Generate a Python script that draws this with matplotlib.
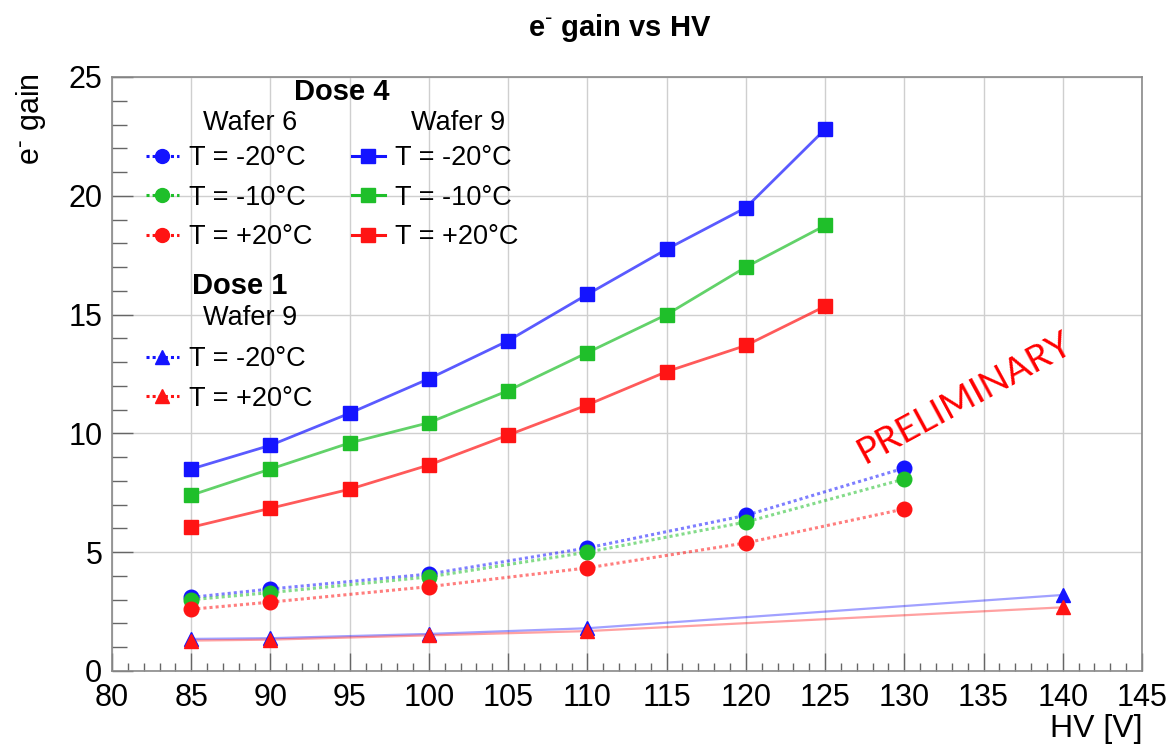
import matplotlib
matplotlib.use("Agg")
import matplotlib.pyplot as plt
from matplotlib.lines import Line2D
from matplotlib.ticker import MultipleLocator

plt.rcParams['font.family'] = ['Liberation Sans', 'DejaVu Sans']

# ---- data ----
hv_w9 = [85, 90, 95, 100, 105, 110, 115, 120, 125]
d4_w9_m20 = [8.5, 9.5, 10.85, 12.3, 13.9, 15.85, 17.75, 19.5, 22.8]
d4_w9_m10 = [7.4, 8.5, 9.6, 10.45, 11.8, 13.4, 15.0, 17.0, 18.75]
d4_w9_p20 = [6.05, 6.85, 7.65, 8.67, 9.93, 11.2, 12.6, 13.7, 15.35]

hv_w6 = [85, 90, 100, 110, 120, 130]
d4_w6_m20 = [3.1, 3.45, 4.08, 5.18, 6.55, 8.54]
d4_w6_m10 = [3.0, 3.3, 3.96, 5.0, 6.27, 8.08]
d4_w6_p20 = [2.6, 2.9, 3.55, 4.34, 5.39, 6.82]

hv_d1 = [85, 90, 100, 110, 140]
d1_w9_m20 = [1.35, 1.38, 1.56, 1.8, 3.2]
d1_w9_p20 = [1.28, 1.32, 1.5, 1.68, 2.68]

labels_T3 = ["T = -20\u00b0C", "T = -10\u00b0C", "T = +20\u00b0C"]
labels_T2 = ["T = -20\u00b0C", "T = +20\u00b0C"]

BLUE = "#1414ff"
GREEN = "#1fbf2a"
RED = "#ff1414"

W, H = 1175, 745
fig = plt.figure(figsize=(W / 100, H / 100), dpi=100)
ax = fig.add_axes([112 / W, (H - 671) / H, (1142 - 112) / W, (671 - 77) / H])


def series(x, y, color, ls, lw, marker, ms, lalpha):
    ax.plot(x, y, color=color, ls=ls, lw=lw, alpha=lalpha, zorder=3)
    ax.plot(x, y, color=color, ls='none', marker=marker, ms=ms, zorder=4)


dot = (0, (1, 1))
series(hv_w9, d4_w9_m20, BLUE, '-', 2.0, 's', 10, 0.7)
series(hv_w9, d4_w9_m10, GREEN, '-', 2.0, 's', 10, 0.7)
series(hv_w9, d4_w9_p20, RED, '-', 2.0, 's', 10, 0.7)
series(hv_w6, d4_w6_m20, BLUE, dot, 2.2, 'o', 10.5, 0.55)
series(hv_w6, d4_w6_m10, GREEN, dot, 2.2, 'o', 10.5, 0.55)
series(hv_w6, d4_w6_p20, RED, dot, 2.2, 'o', 10.5, 0.55)
series(hv_d1, d1_w9_m20, BLUE, '-', 1.6, '^', 10, 0.4)
series(hv_d1, d1_w9_p20, RED, '-', 1.6, '^', 10, 0.4)

ax.set_xlim(80, 145)
ax.set_ylim(0, 25)
ax.xaxis.set_major_locator(MultipleLocator(5))
ax.xaxis.set_minor_locator(MultipleLocator(1))
ax.yaxis.set_major_locator(MultipleLocator(5))
ax.yaxis.set_minor_locator(MultipleLocator(1))
ax.grid(True, which='major', color='#cfcfcf', lw=1.0, zorder=0)
ax.set_axisbelow(True)
ax.tick_params(axis='both', which='both', direction='in', colors='#666666',
               labelcolor='black', labelsize=22, width=1.0)
ax.tick_params(axis='x', which='major', length=13, pad=9)
ax.tick_params(axis='x', which='minor', length=6)
ax.tick_params(axis='y', which='major', length=15, pad=7)
ax.tick_params(axis='y', which='minor', length=11)
for s in ax.spines.values():
    s.set_color('#8a8a8a')
    s.set_linewidth(1.2)

fig.text(620 / W, 1 - 28 / H, r"e$^{\text{-}}$ gain vs HV", ha='center', va='center',
         fontsize=21, fontweight='bold')
fig.text(31 / W, 1 - 73 / H, r"e$^{\text{-}}$ gain", ha='center', va='top',
         rotation=90, fontsize=22)
fig.text(1142 / W, 1 - 729 / H, "HV [V]", ha='right', va='center', fontsize=23)

ax.text(133.8, 11.5, "PRELIMINARY", color='red', fontsize=26.5, rotation=28.5,
        ha='center', va='center', family='Lato')

# ---- legend ----
fs_leg = 19.5
fig.text(342 / W, 1 - 92 / H, "Dose 4", ha='center', va='center',
         fontsize=21, fontweight='bold')
fig.text(250 / W, 1 - 123 / H, "Wafer 6", ha='center', va='center', fontsize=fs_leg)
fig.text(458 / W, 1 - 123 / H, "Wafer 9", ha='center', va='center', fontsize=fs_leg)
fig.text(240 / W, 1 - 286 / H, "Dose 1", ha='center', va='center',
         fontsize=21, fontweight='bold')
fig.text(250 / W, 1 - 318 / H, "Wafer 9", ha='center', va='center', fontsize=fs_leg)


def handles(colors, ls, marker):
    return [Line2D([], [], color=c, ls=ls, lw=2.2, marker=marker, ms=10) for c in colors]


common = dict(frameon=False, fontsize=fs_leg, handlelength=1.2, handletextpad=0.4,
              labelspacing=0.5, borderpad=0, borderaxespad=0, loc='upper left',
              bbox_transform=fig.transFigure)
l1 = fig.legend(handles([BLUE, GREEN, RED], dot, 'o'), labels_T3,
                bbox_to_anchor=(146 / W, 1 - 145 / H), **common)
l2 = fig.legend(handles([BLUE, GREEN, RED], '-', 's'), labels_T3,
                bbox_to_anchor=(352 / W, 1 - 145 / H), **common)
l3 = fig.legend(handles([BLUE, RED], dot, '^'), labels_T2,
                bbox_to_anchor=(146 / W, 1 - 346 / H), **common)

fig.savefig("out.png", dpi=100)
